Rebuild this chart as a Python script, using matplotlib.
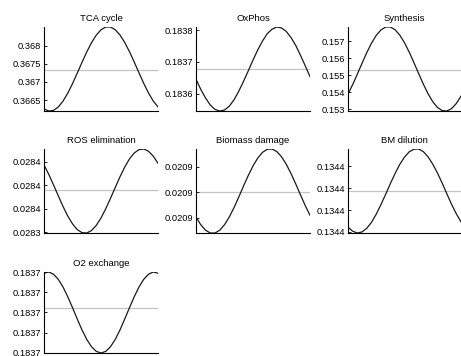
import matplotlib
matplotlib.use('Agg')
import matplotlib.pyplot as plt
import numpy as np

plt.rcParams['font.family'] = ['Liberation Sans', 'DejaVu Sans']

# ── Time axis (hours) and per-process flux traces ───────────────────────────
hours = list(range(25))

titles = ['TCA cycle', 'OxPhos', 'Synthesis', 'ROS elimination',
          'Biomass damage', 'BM dilution', 'O2 exchange']

tca = [0.366261, 0.366203, 0.366220, 0.366312, 0.366473, 0.366692, 0.366954,
       0.367243, 0.367540, 0.367825, 0.368080, 0.368287, 0.368434, 0.368510,
       0.368511, 0.368436, 0.368291, 0.368085, 0.367832, 0.367547, 0.367251,
       0.366961, 0.366698, 0.366477, 0.366315]
oxphos = [0.183646, 0.183614, 0.183587, 0.183565, 0.183551, 0.183546, 0.183549,
          0.183561, 0.183581, 0.183608, 0.183639, 0.183672, 0.183706, 0.183738,
          0.183766, 0.183789, 0.183803, 0.183810, 0.183807, 0.183796, 0.183777,
          0.183752, 0.183721, 0.183688, 0.183654]
synthesis = [0.153904, 0.154464, 0.155085, 0.155726, 0.156344, 0.156898, 0.157350,
             0.157670, 0.157838, 0.157841, 0.157680, 0.157365, 0.156918, 0.156368,
             0.155752, 0.155111, 0.154488, 0.153925, 0.153458, 0.153121, 0.152934,
             0.152911, 0.153052, 0.153350, 0.153782]
ros = [0.0283973, 0.0283893, 0.0283803, 0.0283710, 0.0283619, 0.0283537, 0.0283470,
       0.0283421, 0.0283395, 0.0283392, 0.0283413, 0.0283457, 0.0283520, 0.0283599,
       0.0283688, 0.0283781, 0.0283872, 0.0283955, 0.0284025, 0.0284075, 0.0284104,
       0.0284109, 0.0284090, 0.0284048, 0.0283987]
damage = [0.02087037, 0.02086737, 0.02086524, 0.02086414, 0.02086414, 0.02086523,
          0.02086735, 0.02087035, 0.02087403, 0.02087814, 0.02088242, 0.02088656,
          0.02089030, 0.02089338, 0.02089560, 0.02089680, 0.02089691, 0.02089592,
          0.02089390, 0.02089098, 0.02088735, 0.02088327, 0.02087899, 0.02087482,
          0.02087104]
dilution = [0.1343622, 0.1343603, 0.1343595, 0.1343600, 0.1343617, 0.1343644,
            0.1343681, 0.1343725, 0.1343772, 0.1343821, 0.1343867, 0.1343909,
            0.1343942, 0.1343966, 0.1343978, 0.1343979, 0.1343967, 0.1343943,
            0.1343910, 0.1343869, 0.1343823, 0.1343774, 0.1343726, 0.1343683,
            0.1343646]
o2 = [0.1836994, 0.1837000, 0.1836989, 0.1836964, 0.1836926, 0.1836878, 0.1836824,
      0.1836768, 0.1836714, 0.1836667, 0.1836631, 0.1836608, 0.1836600, 0.1836608,
      0.1836631, 0.1836667, 0.1836714, 0.1836768, 0.1836824, 0.1836878, 0.1836926,
      0.1836964, 0.1836989, 0.1837000, 0.1836994]

series = [tca, oxphos, synthesis, ros, damage, dilution, o2]

yticks = [
    [0.3665, 0.367, 0.3675, 0.368],
    [0.1836, 0.1837, 0.1838],
    [0.153, 0.154, 0.155, 0.156, 0.157],
    [0.02834, 0.02836, 0.02838, 0.02840],
    [0.02087, 0.02088, 0.02089],
    [0.13436, 0.13437, 0.13438, 0.13439],
    [0.18366, 0.18367, 0.18368, 0.18369, 0.18370],
]
ytick_fmt = ['%g', '%g', '%g', '%.4f', '%.4f', '%.4f', '%.4f']

# ── Layout: 3x3 grid, pixel boxes (left, top, width, bottom) ────────────────
W, H = 461, 356
col_left = [44, 196, 348]
col_w = [114, 114, 113]
rows = [(27, 111), (149, 233), (272, 353)]

fig = plt.figure(figsize=(W / 100, H / 100), dpi=100)
fig.patch.set_facecolor('white')

for k, (title, y) in enumerate(zip(titles, series)):
    r, c = divmod(k, 3)
    top, bot = rows[r]
    ax = fig.add_axes([col_left[c] / W, 1 - bot / H, col_w[c] / W, (bot - top) / H])

    ax.plot(hours, y, color='#1a1a1a', lw=0.9)
    ax.axhline(np.mean(y), color='#c4c4c4', lw=0.9, zorder=0)

    ax.set_xlim(hours[0], hours[-1])
    ax.set_ylim(min(y), max(y))
    ax.set_yticks(yticks[k])
    ax.set_yticklabels([ytick_fmt[k] % v for v in yticks[k]])
    ax.set_xticks([])

    for side in ('top', 'right'):
        ax.spines[side].set_visible(False)
    for side in ('left', 'bottom'):
        ax.spines[side].set_linewidth(0.8)
        ax.spines[side].set_color('black')
    ax.tick_params(axis='y', direction='in', length=2, width=0.6,
                   labelsize=6.7, pad=2, colors='black')
    ax.set_title(title, fontsize=6.8, pad=4)

plt.savefig('out.png', dpi=100, facecolor=fig.get_facecolor())
